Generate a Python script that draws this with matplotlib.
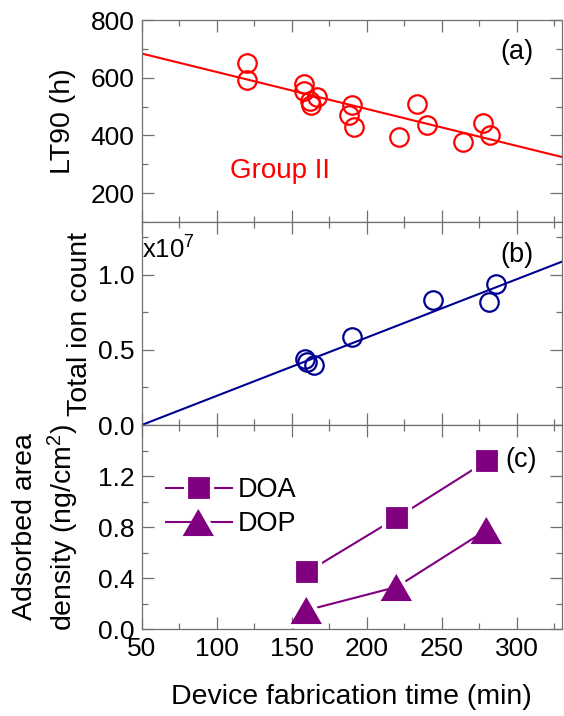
"""Three stacked panels vs device fabrication time: LT90, total ion count, adsorbed density."""
import matplotlib

matplotlib.use("Agg")
import matplotlib.pyplot as plt
import numpy as np
from matplotlib.markers import MarkerStyle
from matplotlib.ticker import FixedLocator, MultipleLocator

plt.rcParams.update({
    "font.family": ["Liberation Sans", "DejaVu Sans"],
    "mathtext.fontset": "custom",
    "mathtext.rm": "Liberation Sans",
    "mathtext.it": "Liberation Sans:italic",
    "axes.edgecolor": "#707070",
    "axes.linewidth": 0.9,
    "xtick.color": "#707070",
    "ytick.color": "#707070",
    "xtick.labelcolor": "black",
    "ytick.labelcolor": "black",
})

C_RED = "#ff0000"
C_NAVY = "#000090"
C_PURPLE = "#800080"

# (a) LT90 of Group II devices
time_a = [120, 120.5, 158, 158.5, 162, 163, 167, 190, 188, 191.5,
          221.5, 233.5, 240.5, 264, 277.5, 282]
lt90_h = [651, 592, 580, 555, 521, 507, 534, 505, 470, 430,
          394, 509, 436, 378, 444, 402]
lt90_fit = (748.0, -1.28)          # intercept, slope

# (b) total ion count (x1e7)
time_b = [159, 160, 165, 190, 244, 281.5, 286]
ion_e7 = [0.44, 0.42, 0.40, 0.587, 0.833, 0.815, 0.94]
ion_fit = (-0.1939, 0.003878)      # intercept, slope

# (c) adsorbed area density (ng/cm2)
time_c = [160, 220, 280]
doa = [0.445, 0.872, 1.318]
dop = [0.147, 0.33, 0.778]

FS_TICK = 19
FS_LABEL = 20.5

fig = plt.figure(figsize=(5.64, 7.16), dpi=100)
L, W = 0.2512, 0.7447
ax_a = fig.add_axes([L, 0.6899, W, 0.2821])
ax_b = fig.add_axes([L, 0.4064, W, 0.2835])
ax_c = fig.add_axes([L, 0.1215, W, 0.2849])

for ax in (ax_a, ax_b, ax_c):
    ax.set_xlim(50, 330)
    ax.xaxis.set_major_locator(MultipleLocator(50))
    ax.xaxis.set_minor_locator(MultipleLocator(25))
    ax.tick_params(which="both", direction="in", top=True, right=True,
                   width=0.9, labelsize=FS_TICK)
    ax.tick_params(which="major", length=8.5)
    ax.tick_params(which="minor", length=4)
    ax.tick_params(axis="x", pad=6)
    ax.tick_params(axis="y", pad=5)
for ax in (ax_a, ax_b):
    ax.tick_params(axis="x", labelbottom=False)

# panel a
xs = np.array(ax_a.get_xlim())
ax_a.plot(xs, lt90_fit[0] + lt90_fit[1] * xs, color=C_RED, lw=1.5, zorder=2)
ax_a.plot(time_a, lt90_h, "o", ms=13.3, mfc="none", mec=C_RED, mew=1.6,
          zorder=3)
ax_a.set_ylim(100, 800)
ax_a.yaxis.set_major_locator(MultipleLocator(200))
ax_a.yaxis.set_minor_locator(MultipleLocator(100))
ax_a.set_ylabel("LT90 (h)", fontsize=FS_LABEL)
ax_a.yaxis.set_label_coords(-0.156, 0.5)
ax_a.text(0.932, 0.84, "(a)", transform=ax_a.transAxes, ha="right",
          va="center", fontsize=FS_TICK + 0.5)
ax_a.text(109, 0.255, "Group II", transform=ax_a.get_xaxis_transform(),
          ha="left", va="center", fontsize=FS_TICK + 1, color=C_RED)

# panel b
xs = np.array(ax_b.get_xlim())
ax_b.plot(xs, ion_fit[0] + ion_fit[1] * xs, color=C_NAVY, lw=1.5, zorder=2)
ax_b.plot(time_b, ion_e7, "o", ms=13.3, mfc="none", mec=C_NAVY, mew=1.6,
          zorder=3)
ax_b.set_ylim(0, 1.35)
ax_b.yaxis.set_major_locator(MultipleLocator(0.5))
ax_b.yaxis.set_minor_locator(MultipleLocator(0.25))
ax_b.yaxis.set_major_formatter(lambda v, p: f"{v:.1f}")
ax_b.set_ylabel("Total ion count", fontsize=FS_LABEL)
ax_b.yaxis.set_label_coords(-0.116, 0.5)
ax_b.text(0.0, 0.818, r"x10$^{7}$", transform=ax_b.transAxes, ha="left",
          va="baseline", fontsize=FS_TICK - 0.5)
ax_b.text(0.932, 0.837, "(b)", transform=ax_b.transAxes, ha="right",
          va="center", fontsize=FS_TICK + 0.5)

# panel c -- white marker edge leaves the gap between line and marker
tri = MarkerStyle([(-1, -0.866), (1, -0.866), (0, 0.866)], joinstyle="round")
ax_c.plot(time_c, doa, "-", marker="s", ms=18.6, color=C_PURPLE, lw=1.5,
          mfc=C_PURPLE, mec="white", mew=3.0, label="DOA")
ax_c.plot(time_c, dop, "-", marker=tri, ms=26, color=C_PURPLE, lw=1.5,
          mfc=C_PURPLE, mec="white", mew=3.0, label="DOP")
ax_c.set_ylim(0, 1.6)
ax_c.yaxis.set_major_locator(FixedLocator([0, 0.4, 0.8, 1.2]))
ax_c.yaxis.set_minor_locator(MultipleLocator(0.2))
ax_c.yaxis.set_major_formatter(lambda v, p: f"{v:.1f}")
ax_c.set_ylabel("Adsorbed area\ndensity (ng/cm$^2$)", fontsize=FS_LABEL,
                linespacing=1.3)
ax_c.yaxis.set_label_coords(-0.145, 0.5)
ax_c.set_xlabel("Device fabrication time (min)", fontsize=FS_LABEL)
ax_c.xaxis.set_label_coords(0.5, -0.27)
ax_c.text(0.94, 0.83, "(c)", transform=ax_c.transAxes, ha="right",
          va="center", fontsize=FS_TICK + 0.5)
ax_c.legend(loc="upper left", bbox_to_anchor=(0.058, 0.745), frameon=False,
            fontsize=FS_TICK + 0.5, borderpad=0, borderaxespad=0,
            handlelength=2.44, handletextpad=0.22, labelspacing=0.3)

fig.savefig("out.png", dpi=100)
